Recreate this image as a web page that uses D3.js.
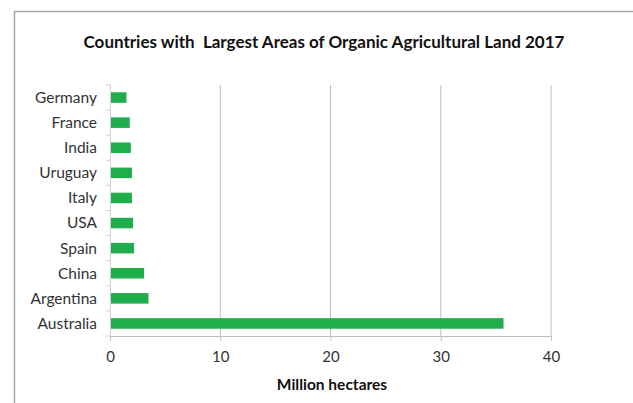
<!DOCTYPE html>
<html><head><meta charset="utf-8">
<script src="https://cdn.jsdelivr.net/npm/d3@7"></script>
<style>body{margin:0;background:#fff}svg{display:block}text{font-family:Lato,"Open Sans",sans-serif}</style>
</head><body>
<svg id="c" width="633" height="403"></svg>
<script>
const countries = ["Germany","France","India","Uruguay","Italy","USA","Spain","China","Argentina","Australia"];
const values = [1.4,1.7,1.8,1.9,1.9,2.0,2.1,3.0,3.4,35.6];
const xTicks = [0,10,20,30,40];
const title = "Countries with  Largest Areas of Organic Agricultural Land 2017";
const xTitle = "Million hectares";

const svg = d3.select("#c");
svg.append("rect").attr("x",14.5).attr("y",11.5).attr("width",640).attr("height",420)
  .attr("fill","#fff").attr("stroke","#a6a6a6").attr("stroke-width",1.5);

const x = d3.scaleLinear().domain([0,40]).range([110,551]);
const y = d3.scaleBand().domain(countries).range([85,336]).paddingInner(0.58).paddingOuter(0.29);

svg.append("text").attr("x",324).attr("y",48).attr("text-anchor","middle")
  .style("white-space","pre")
  .attr("font-size",17).attr("font-weight","bold").attr("fill","#111").text(title);

// gridlines
svg.append("g").selectAll("line").data(xTicks.slice(1)).join("line")
  .attr("x1",d=>x(d)).attr("x2",d=>x(d)).attr("y1",85).attr("y2",336)
  .attr("stroke","#bfbfbf").attr("stroke-width",1);

// bars
svg.append("g").selectAll("rect").data(values).join("rect")
  .attr("x",x(0)+1).attr("y",(d,i)=>y(countries[i]))
  .attr("width",d=>x(d)-x(0)).attr("height",y.bandwidth())
  .attr("fill","#1fae4b");

// x axis
const xa = svg.append("g").attr("transform","translate(0,336)")
  .call(d3.axisBottom(x).tickValues(xTicks).tickSize(5).tickPadding(10).tickFormat(d3.format("d")));
xa.select(".domain").attr("stroke","#bfbfbf");
xa.selectAll(".tick line").attr("stroke","#bfbfbf");
xa.selectAll("text").attr("font-size",15).attr("fill","#333");

// y axis
const yTicksPos = d3.range(countries.length+1).map(i=>85 + i*(251/countries.length));
svg.append("line").attr("x1",110.5).attr("x2",110.5).attr("y1",85).attr("y2",336).attr("stroke","#d0d0d0");
svg.append("g").selectAll("line").data(yTicksPos).join("line")
  .attr("x1",106).attr("x2",110).attr("y1",d=>d).attr("y2",d=>d).attr("stroke","#d0d0d0");
svg.append("g").selectAll("text").data(countries).join("text")
  .attr("x",97).attr("y",d=>y(d)+y.bandwidth()/2).attr("dy","0.35em")
  .attr("text-anchor","end").attr("font-size",15.5).attr("fill","#333").text(d=>d);

svg.append("text").attr("x",332).attr("y",390).attr("text-anchor","middle")
  .attr("font-size",15.5).attr("font-weight","bold").attr("fill","#111").text(xTitle);
</script>
</body></html>
